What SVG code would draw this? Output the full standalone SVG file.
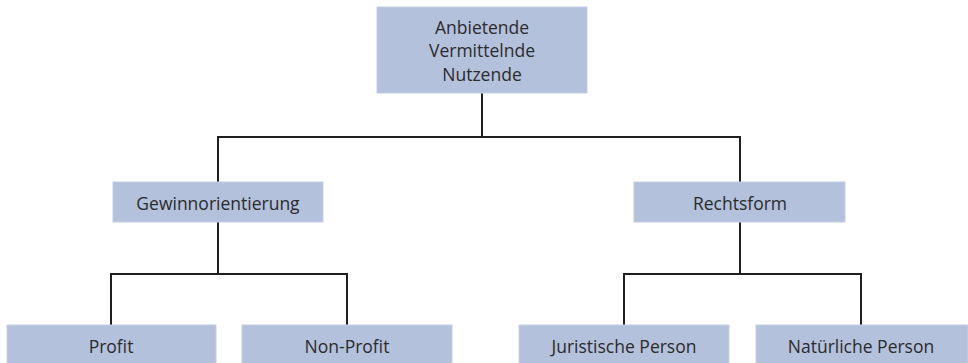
<svg xmlns="http://www.w3.org/2000/svg" width="968" height="363" viewBox="0 0 968 363">
  <style>
    .box { fill: #b4c1dc; stroke: #c3cee5; stroke-width: 1; }
    .label { font-family: "Open Sans", "Noto Sans", sans-serif; font-size: 17.5px; fill: #2b2b2b; text-anchor: middle; }
    .wire { fill: none; stroke: #1f1f1f; stroke-width: 2; }
  </style>
  <rect width="968" height="363" fill="#ffffff"/>

  <!-- connectors -->
  <g id="connectors">
    <path class="wire" d="M482,93 V137"/>
    <path class="wire" d="M218,182 V137 H740 V182"/>
    <path class="wire" d="M218,222 V274"/>
    <path class="wire" d="M111,325 V274 H347 V325"/>
    <path class="wire" d="M740,222 V274"/>
    <path class="wire" d="M624,325 V274 H861 V325"/>
  </g>

  <!-- root -->
  <g id="root">
    <rect class="box" x="377" y="7" width="210" height="86"/>
    <text class="label" x="482" y="34">Anbietende</text>
    <text class="label" x="482" y="57">Vermittelnde</text>
    <text class="label" x="482" y="81">Nutzende</text>
  </g>

  <!-- second level -->
  <g id="gewinnorientierung">
    <rect class="box" x="113" y="182" width="210" height="40"/>
    <text class="label" x="218" y="210">Gewinnorientierung</text>
  </g>
  <g id="rechtsform">
    <rect class="box" x="634" y="182" width="211" height="40"/>
    <text class="label" x="740" y="210">Rechtsform</text>
  </g>

  <!-- leaves -->
  <g id="profit">
    <rect class="box" x="7" y="325" width="209" height="40"/>
    <text class="label" x="111" y="353">Profit</text>
  </g>
  <g id="non-profit">
    <rect class="box" x="242" y="325" width="210" height="40"/>
    <text class="label" x="347" y="353">Non-Profit</text>
  </g>
  <g id="juristische-person">
    <rect class="box" x="519" y="325" width="210" height="40"/>
    <text class="label" x="624" y="353">Juristische Person</text>
  </g>
  <g id="natuerliche-person">
    <rect class="box" x="756" y="325" width="212" height="40"/>
    <text class="label" x="861" y="353">Natürliche Person</text>
  </g>
</svg>
